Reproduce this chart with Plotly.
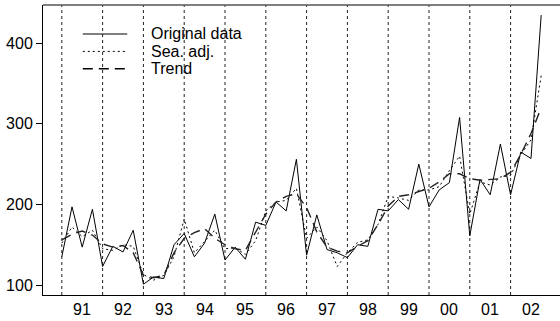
import plotly.graph_objects as go

# Quarterly series, 1991Q1 - 2002Q4
start_year = 1991
freq = 4
original = [135, 197, 147, 194,
            123, 148, 141, 168,
            101, 110, 108, 150,
            164, 135, 152, 188,
            131, 147, 132, 178,
            174, 203, 192, 256,
            137, 187, 144, 140,
            134, 150, 148, 194,
            192, 206, 194, 250,
            197, 218, 227, 308,
            161, 231, 212, 275,
            212, 265, 257, 435]
seas_adj = [152, 172, 160, 168,
            145, 143, 150, 148,
            113, 106, 112, 135,
            182, 140, 154, 168,
            145, 146, 138, 155,
            192, 203, 205, 220,
            158, 172, 155, 123,
            140, 153, 156, 175,
            210, 208, 205, 218,
            218, 222, 242, 260,
            188, 228, 224, 234,
            236, 262, 280, 360]
trend = [156, 163, 167, 162,
         151, 147, 149, 140,
         112, 109, 112, 140,
         158, 165, 170, 158,
         150, 145, 143, 166,
         188, 203, 210, 213,
         196, 166, 147, 142,
         140, 148, 155, 175,
         198, 210, 212, 216,
         220, 228, 238, 238,
         232, 230, 231, 232,
         240, 262, 288, 320]
year_labels = ["91", "92", "93", "94", "95", "96", "97", "98", "99", "00", "01", "02"]
y_ticks = [100, 200, 300, 400]

time = [start_year + i / freq for i in range(len(original))]
years = [start_year + i for i in range(len(year_labels))]

FONT = "Liberation Sans, Arial, sans-serif"
DOT = "2px,3px"
DASH = "10px,6px"

fig = go.Figure()
fig.add_trace(go.Scatter(x=time, y=original, mode="lines", name="Original data",
                         line=dict(color="black", width=1)))
fig.add_trace(go.Scatter(x=time, y=seas_adj, mode="lines", name="Sea. adj.",
                         line=dict(color="black", width=1, dash=DOT)))
fig.add_trace(go.Scatter(x=time, y=trend, mode="lines", name="Trend",
                         line=dict(color="#222", width=1.4, dash=DASH)))

shapes = []
# year separators
for yr in years:
    shapes.append(dict(type="line", xref="x", yref="paper", x0=yr, x1=yr, y0=0, y1=1,
                       line=dict(color="#222", width=1, dash="3px,3px"), layer="below"))
# frame: top edge
shapes.append(dict(type="line", xref="paper", yref="paper", x0=0, x1=1, y0=1, y1=1,
                   line=dict(color="#555", width=1.5)))

# legend drawn inside the panel
legend_rows = [("Original data", "solid", 1), ("Sea. adj.", DOT, 1), ("Trend", DASH, 1.4)]
legend_y = [0.90, 0.840, 0.780]
annotations = []
for (label, dash, w), ly in zip(legend_rows, legend_y):
    shapes.append(dict(type="line", xref="paper", yref="paper", x0=0.077, x1=0.163, y0=ly, y1=ly,
                       line=dict(color="black", width=w, dash=dash)))
    annotations.append(dict(xref="paper", yref="paper", x=0.205, y=ly, text=label,
                            showarrow=False, xanchor="left", yanchor="middle",
                            font=dict(family=FONT, size=16, color="black")))
# year labels centred in each year
for yr, lab in zip(years, year_labels):
    annotations.append(dict(xref="x", yref="paper", x=yr + 0.5, y=0, yshift=-14, text=lab,
                            showarrow=False, xanchor="center", yanchor="middle",
                            font=dict(family=FONT, size=16, color="black")))

fig.update_layout(
    width=560, height=321,
    margin=dict(l=43, r=0, t=5, b=26),
    paper_bgcolor="white", plot_bgcolor="white",
    showlegend=False,
    shapes=shapes, annotations=annotations,
    xaxis=dict(range=[1990.539, 2003.211], showgrid=False, zeroline=False,
               showticklabels=False, ticks="", showline=True, linecolor="black", linewidth=1.2),
    yaxis=dict(range=[87.6, 447.5], showgrid=False, zeroline=False,
               tickvals=y_ticks, ticks="outside", ticklen=6, tickwidth=1, tickcolor="black",
               showline=True, linecolor="black", linewidth=1,
               tickfont=dict(family=FONT, size=16, color="black")),
)

fig.write_html("out.html")
